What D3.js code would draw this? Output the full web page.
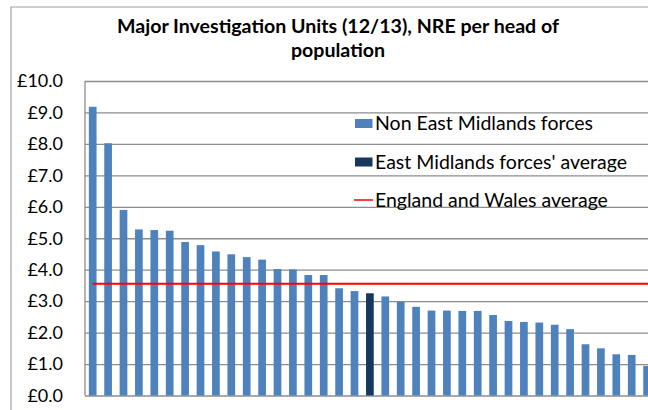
<!DOCTYPE html>
<html>
<head>
<meta charset="utf-8">
<script src="https://cdn.jsdelivr.net/npm/d3@7/dist/d3.min.js"></script>
<style>
  html, body { margin: 0; padding: 0; background: #fff; }
  svg { display: block; }
  text { font-family: Lato, "Open Sans", sans-serif; fill: #000; }
</style>
</head>
<body>
<svg id="chart" width="648" height="410"></svg>
<script>
// ---- data ----
const titleLines = ["Major Investigation Units (12/13), NRE per head of", "population"];
const forces = d3.range(1, 38).map(i => "Force " + i);
const values = [9.18, 8.02, 5.90, 5.28, 5.26, 5.24, 4.88, 4.78, 4.58, 4.49, 4.40, 4.32,
                4.02, 4.01, 3.83, 3.83, 3.41, 3.32, 3.25, 3.15, 2.98, 2.82, 2.70, 2.70,
                2.69, 2.69, 2.56, 2.37, 2.34, 2.32, 2.25, 2.11, 1.63, 1.50, 1.31, 1.29, 0.94];
const groups = values.map((v, i) => i === 18 ? "em" : "non");
const englandWalesAverage = 3.55;
const yTicks = [0, 1, 2, 3, 4, 5, 6, 7, 8, 9, 10];
const legendLabels = ["Non East Midlands forces", "East Midlands forces' average", "England and Wales average"];

// ---- layout ----
const svg = d3.select("#chart");
const W = 648, H = 410;
const plot = { left: 85, top: 81, bottom: 395.5, right: 85 + 37 * 15.4 };
const colors = { non: "#4F81BD", em: "#17375E", avg: "#FF0000", grid: "#8C8C8C" };

svg.append("defs").append("clipPath").attr("id", "clip")
  .append("rect").attr("x", 0).attr("y", 0).attr("width", W).attr("height", H);

// outer border of chart area
svg.append("path")
  .attr("d", `M11,${H} L11,7 L${W},7`)
  .attr("fill", "none").attr("stroke", "#A0A0A0").attr("stroke-width", 1.2);

const x = d3.scaleBand().domain(forces).range([plot.left, plot.right])
  .paddingInner(0.5).paddingOuter(0.25);
const y = d3.scaleLinear().domain([0, 10]).range([plot.bottom, plot.top]);

// gridlines
svg.append("g")
  .attr("transform", `translate(${plot.left},0)`)
  .call(d3.axisLeft(y).tickValues(yTicks).tickSize(-(plot.right - plot.left)).tickFormat(""))
  .call(g => g.select(".domain").remove())
  .call(g => g.selectAll("line").attr("stroke", colors.grid).attr("stroke-width", 1.3));

// y labels
svg.append("g")
  .attr("transform", `translate(${plot.left},0)`)
  .call(d3.axisLeft(y).tickValues(yTicks).tickSize(0).tickPadding(22)
    .tickFormat(d => "£" + d3.format(".1f")(d)))
  .call(g => g.select(".domain").remove())
  .call(g => g.selectAll("text").style("font-size", "18px").style("font-family", "Lato, sans-serif").attr("fill", "#000"));

// left axis line
svg.append("line").attr("x1", plot.left).attr("x2", plot.left)
  .attr("y1", plot.top).attr("y2", plot.bottom)
  .attr("stroke", colors.grid).attr("stroke-width", 1.3);

// bars
svg.append("g").attr("clip-path", "url(#clip)")
  .selectAll("rect").data(values).join("rect")
  .attr("x", (d, i) => x(forces[i]))
  .attr("width", x.bandwidth())
  .attr("y", d => y(d))
  .attr("height", d => y(0) - y(d))
  .attr("fill", (d, i) => colors[groups[i]]);

// England & Wales average line
svg.append("line")
  .attr("x1", x(forces[0]) + x.bandwidth() / 2)
  .attr("x2", W)
  .attr("y1", y(englandWalesAverage)).attr("y2", y(englandWalesAverage))
  .attr("stroke", colors.avg).attr("stroke-width", 2);

// title
const title = svg.append("text").attr("text-anchor", "middle")
  .style("font-size", "19.6px").style("font-weight", "bold");
title.selectAll("tspan").data(titleLines).join("tspan")
  .attr("x", 338).attr("y", (d, i) => 33 + i * 24).text(d => d);

// legend
const leg = svg.append("g");
const legY = [123.5, 162, 200];
leg.append("rect").attr("x", 355).attr("y", legY[0] - 4.5).attr("width", 17.5).attr("height", 9).attr("fill", colors.non);
leg.append("rect").attr("x", 355).attr("y", legY[1] - 4.5).attr("width", 17.5).attr("height", 9).attr("fill", colors.em);
leg.append("line").attr("x1", 354).attr("x2", 373).attr("y1", legY[2]).attr("y2", legY[2])
  .attr("stroke", colors.avg).attr("stroke-width", 1.5);
leg.selectAll("text.l").data(legendLabels).join("text").attr("class", "l")
  .attr("x", 375).attr("y", (d, i) => legY[i]).attr("dy", "0.35em")
  .style("font-size", "19.5px").text(d => d);
</script>
</body>
</html>
